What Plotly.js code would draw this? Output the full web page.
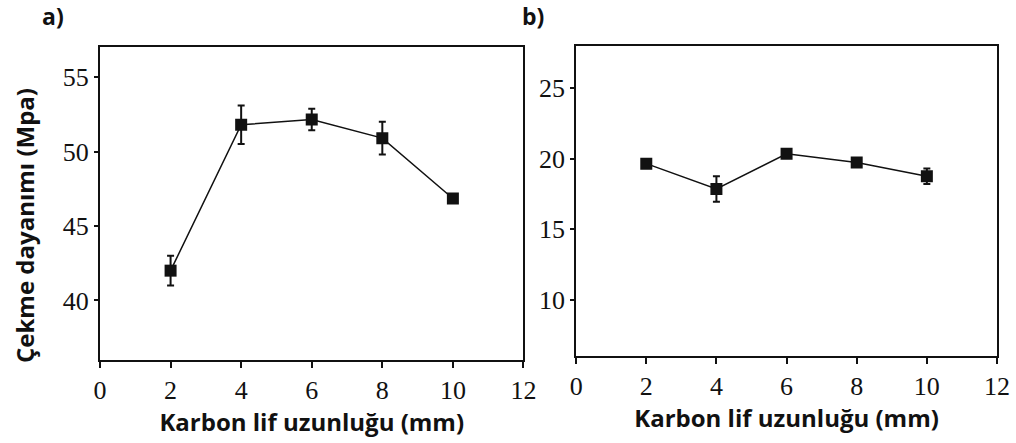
<!DOCTYPE html>
<html>
<head>
<meta charset="utf-8">
<script src="https://cdn.plot.ly/plotly-3.0.1.min.js"></script>
<style>html,body{margin:0;padding:0;background:#fff;}#chart{width:1016px;height:443px;}</style>
</head>
<body>
<div id="chart"></div>
<script>
const fiberLength = [2, 4, 6, 8, 10];
const strengthA = [42.0, 51.8, 52.15, 50.9, 46.85];
const errorA = [1.0, 1.3, 0.72, 1.1, 0.15];
const strengthB = [19.65, 17.85, 20.35, 19.74, 18.75];
const errorB = [0.15, 0.9, 0.3, 0.2, 0.55];
const xTicks = [0, 2, 4, 6, 8, 10, 12];
const yTicksA = [40, 45, 50, 55];
const yTicksB = [10, 15, 20, 25];
const xTitle = 'Karbon lif uzunluğu (mm)';
const yTitle = 'Çekme dayanımı (Mpa)';
const panelLabels = ['a)', 'b)'];

const serif = {family: 'Liberation Serif, Times New Roman, serif', size: 26, color: '#111'};
const boldSansX = {family: 'Open Sans, sans-serif', size: 24, color: '#111', weight: 700};
const boldSansY = {family: 'Open Sans, sans-serif', size: 24, color: '#111', weight: 700};

function series(y, err, xa, ya) {
  return {
    x: fiberLength, y: y, xaxis: xa, yaxis: ya, type: 'scatter', mode: 'lines+markers',
    line: {color: '#111', width: 1.5},
    marker: {symbol: 'square', size: 12, color: '#111'},
    error_y: {type: 'data', array: err, visible: true, color: '#111', thickness: 2, width: 3.5},
    showlegend: false, hoverinfo: 'x+y'
  };
}

const xBase = {
  range: [0, 12], tickvals: xTicks, ticktext: xTicks.map(String),
  ticks: 'outside', ticklen: 6, tickwidth: 2, tickcolor: '#111',
  showline: true, linewidth: 2, linecolor: '#111', mirror: true,
  showgrid: false, zeroline: false, tickfont: serif, fixedrange: true
};
const yBase = {
  ticks: 'outside', ticklen: 4, tickwidth: 2, tickcolor: '#111',
  showline: true, linewidth: 2, linecolor: '#111', mirror: true,
  showgrid: false, zeroline: false, tickfont: serif, fixedrange: true
};
const yRight = {
  side: 'right', ticks: 'inside', ticklen: 6, tickwidth: 2, tickcolor: '#111',
  showticklabels: false, showline: false, showgrid: false, zeroline: false, fixedrange: true
};

const data = [
  series(strengthA, errorA, 'x', 'y'),
  series(strengthB, errorB, 'x2', 'y2')
];

const plotL = 100, plotW = 897, plotT = 46, plotH = 314;
const labelFont = {family: 'Open Sans, sans-serif', size: 23, color: '#111', weight: 700};

const layout = {
  width: 1016, height: 443,
  margin: {l: plotL, r: 1016 - plotL - plotW, t: plotT, b: 443 - plotT - plotH},
  paper_bgcolor: '#fff', plot_bgcolor: '#fff',
  xaxis: Object.assign({}, xBase, {domain: [0, 0.4721], anchor: 'y',
    title: {text: xTitle, font: boldSansX, standoff: 0}}),
  xaxis2: Object.assign({}, xBase, {domain: [0.5308, 1], anchor: 'y2',
    title: {text: xTitle, font: boldSansX, standoff: 0}}),
  yaxis: Object.assign({}, yBase, {domain: [0, 0.9958], anchor: 'x', range: [36, 57],
    tickvals: yTicksA, ticktext: yTicksA.map(String)}),
  yaxis2: Object.assign({}, yBase, {domain: [0.0127, 1], anchor: 'x2', range: [6, 28],
    tickvals: yTicksB, ticktext: yTicksB.map(String)}),
  yaxis3: Object.assign({}, yRight, {overlaying: 'y', anchor: 'x', range: [36, 57], tickvals: yTicksA}),
  yaxis4: Object.assign({}, yRight, {overlaying: 'y2', anchor: 'x2', range: [6, 28], tickvals: yTicksB}),
  annotations: [
    {text: yTitle, xref: 'paper', yref: 'paper', x: (24 - plotL) / plotW, y: (plotT + plotH - 226) / plotH,
      xanchor: 'center', yanchor: 'middle', textangle: -90, showarrow: false, font: boldSansY},
    {text: panelLabels[0], xref: 'paper', yref: 'paper', x: (53 - plotL) / plotW, y: (plotT + plotH - 16) / plotH,
      xanchor: 'center', yanchor: 'middle', showarrow: false, font: labelFont},
    {text: panelLabels[1], xref: 'paper', yref: 'paper', x: (533 - plotL) / plotW, y: (plotT + plotH - 16) / plotH,
      xanchor: 'center', yanchor: 'middle', showarrow: false, font: labelFont}
  ]
};

Plotly.newPlot('chart', data, layout, {displayModeBar: false, staticPlot: true});
</script>
</body>
</html>
